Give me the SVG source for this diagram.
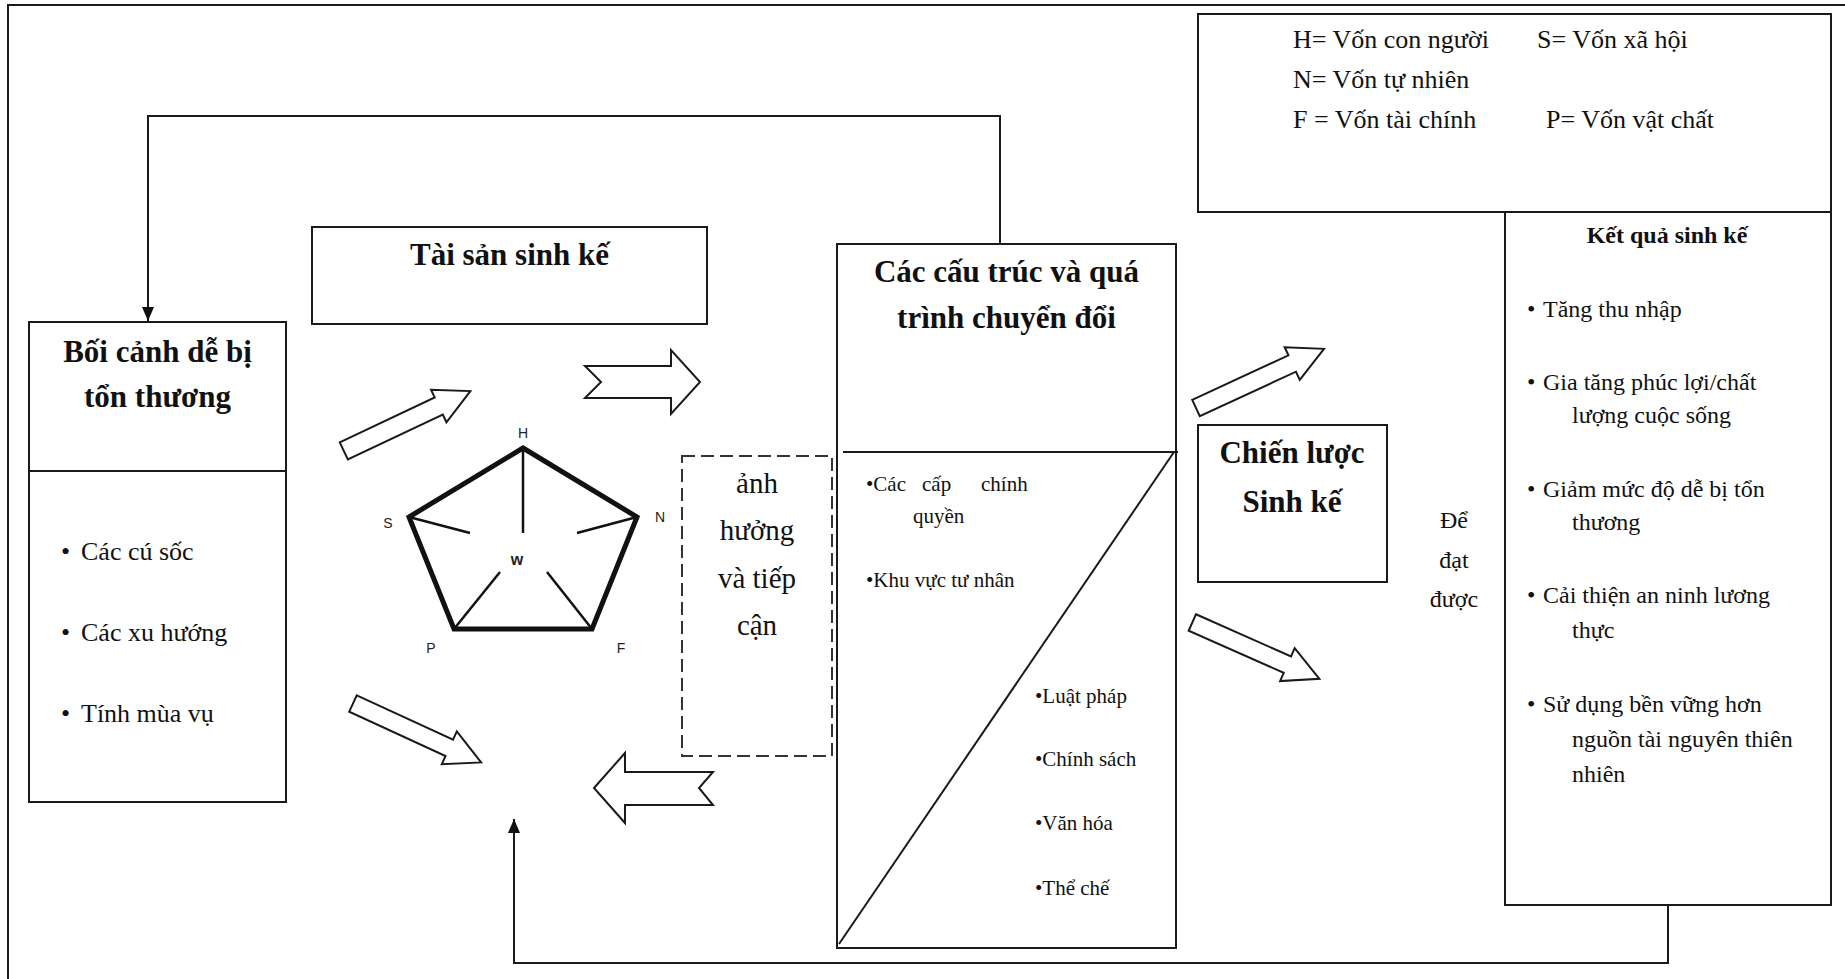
<svg xmlns="http://www.w3.org/2000/svg" width="1845" height="979" viewBox="0 0 1845 979">
<style>
.box{fill:#fff;stroke:#1a1a1a;stroke-width:2}
.dash{fill:none;stroke:#333;stroke-width:2;stroke-dasharray:13,6}
.ln{fill:none;stroke:#1a1a1a;stroke-width:2}
.conn{fill:none;stroke:#1a1a1a;stroke-width:2}
.barrow{fill:#fff;stroke:#1a1a1a;stroke-width:2;stroke-linejoin:miter}
.t{font-family:"Liberation Serif","Times New Roman","DejaVu Serif",serif;fill:#111}
.title{font-size:31px;font-weight:bold;text-anchor:middle}
.body{font-size:24px}
.leg{font-size:26px}
.small{font-size:21px}
.mid{text-anchor:middle}
.pl{font-family:"Liberation Sans",Arial,sans-serif;font-size:14px;fill:#222;text-anchor:middle}
</style>
<defs>
<marker id="ah" markerWidth="14" markerHeight="14" refX="14" refY="7" orient="auto" markerUnits="userSpaceOnUse">
<path d="M0,1 L14,7 L0,13 Z" fill="#111"/>
</marker>
</defs>
<rect x="0" y="0" width="1845" height="979" fill="#fff"/>
<path class="ln" d="M8,979 V5 H1845"/>

<g id="connectors">
<path class="conn" d="M1000,244 V116 H148 V321" marker-end="url(#ah)"/>
<path class="conn" d="M1668,905 V963 H514 V819" marker-end="url(#ah)"/>
<path class="barrow" transform="translate(343.8,450.9) rotate(-25.3)" d="M0,-9.5 H105 V-18 L140,0 L105,18 V9.5 H0 Z"/>
<path class="barrow" transform="translate(353,703.5) rotate(24.7)" d="M0,-9 H106 V-18 L141,0 L106,18 V9 H0 Z"/>
<path class="barrow" d="M585,366 L671,366 L671,350 L700,382 L671,414 L671,398 L585,398 L601,382 Z"/>
<path class="barrow" d="M594,788 L625,753 L625,772 L713,772 L699,788 L713,805 L625,805 L625,823 Z"/>
<path class="barrow" transform="translate(1196,408) rotate(-24.8)" d="M0,-9 H106 V-18 L141,0 L106,18 V9 H0 Z"/>
<path class="barrow" transform="translate(1192.3,622.5) rotate(23.9)" d="M0,-9 H104 V-18 L139,0 L104,18 V9 H0 Z"/>
</g>

<g id="boi-canh">
<rect class="box" x="29" y="322" width="257" height="480"/>
<line class="ln" x1="29" y1="471" x2="286" y2="471"/>
<text class="t title" x="157.5" y="362">Bối cảnh dễ bị</text>
<text class="t title" x="157.5" y="407">tổn thương</text>
<text class="t body" style="font-size:26px" x="61" y="560">•</text><text class="t body" style="font-size:26px" x="81" y="560">Các cú sốc</text>
<text class="t body" style="font-size:26px" x="61" y="641">•</text><text class="t body" style="font-size:26px" x="81" y="641">Các xu hướng</text>
<text class="t body" style="font-size:26px" x="61" y="722">•</text><text class="t body" style="font-size:26px" x="81" y="722">Tính mùa vụ</text>
</g>

<g id="tai-san">
<rect class="box" x="312" y="227" width="395" height="97"/>
<text class="t title" x="509.5" y="265">Tài sản sinh kế</text>
</g>

<g id="pentagon">
<polygon points="523,448 637,517 592,629 454,629 409,517" fill="#fff" stroke="#111" stroke-width="5" stroke-linejoin="miter"/>
<g stroke="#111" stroke-width="2.5">
<line x1="523" y1="448" x2="523" y2="533"/>
<line x1="409" y1="517" x2="470" y2="533"/>
<line x1="637" y1="517" x2="577" y2="533"/>
<line x1="454" y1="629" x2="500" y2="572"/>
<line x1="592" y1="629" x2="547" y2="572"/>
</g>
<text class="pl" x="523" y="438">H</text>
<text class="pl" x="388" y="528">S</text>
<text class="pl" x="660" y="522">N</text>
<text class="pl" x="431" y="653">P</text>
<text class="pl" x="621" y="653">F</text>
<text class="pl" x="517" y="565" style="font-weight:bold;font-size:16px">w</text>
</g>

<g id="anh-huong">
<rect class="dash" x="682" y="456" width="150" height="300"/>
<text class="t mid" style="font-size:29px" x="757" y="493">ảnh</text>
<text class="t mid" style="font-size:29px" x="757" y="540">hưởng</text>
<text class="t mid" style="font-size:29px" x="757" y="588">và tiếp</text>
<text class="t mid" style="font-size:29px" x="757" y="635">cận</text>
</g>

<g id="cau-truc">
<rect class="box" x="837" y="244" width="339" height="704"/>
<line class="ln" x1="843" y1="452" x2="1178" y2="452"/>
<line class="ln" x1="1174" y1="452" x2="839" y2="944"/>
<text class="t title" x="1006.5" y="282">Các cấu trúc và quá</text>
<text class="t title" x="1006.5" y="328">trình chuyển đổi</text>
<text class="t small" x="866" y="491">•Các</text>
<text class="t small" x="922" y="491">cấp</text>
<text class="t small" x="981" y="491">chính</text>
<text class="t small" x="913" y="523">quyền</text>
<text class="t small" x="866" y="587">•Khu vực tư nhân</text>
<text class="t small" x="1035" y="703">•Luật pháp</text>
<text class="t small" x="1035" y="766">•Chính sách</text>
<text class="t small" x="1035" y="830">•Văn hóa</text>
<text class="t small" x="1035" y="895">•Thể chế</text>
</g>

<g id="chien-luoc">
<rect class="box" x="1198" y="425" width="189" height="157"/>
<text class="t title" x="1292" y="463">Chiến lược</text>
<text class="t title" x="1292" y="512">Sinh kế</text>
</g>

<g id="de-dat-duoc">
<text class="t body mid" x="1454" y="528">Để</text>
<text class="t body mid" x="1454" y="568">đạt</text>
<text class="t body mid" x="1454" y="607">được</text>
</g>

<g id="legend">
<rect class="box" x="1198" y="14" width="633" height="198"/>
<text class="t leg" x="1293" y="48">H= Vốn con người</text>
<text class="t leg" x="1537" y="48">S= Vốn xã hội</text>
<text class="t leg" x="1293" y="88">N= Vốn tự nhiên</text>
<text class="t leg" x="1293" y="128">F = Vốn tài chính</text>
<text class="t leg" x="1546" y="128">P= Vốn vật chất</text>
</g>

<g id="ket-qua">
<rect class="box" x="1505" y="212" width="326" height="693"/>
<text class="t mid" style="font-size:24px;font-weight:bold" x="1667" y="243">Kết quả sinh kế</text>
<text class="t body" x="1527" y="317">•</text><text class="t body" x="1543" y="317">Tăng thu nhập</text>
<text class="t body" x="1527" y="390">•</text><text class="t body" x="1543" y="390">Gia tăng phúc lợi/chất</text>
<text class="t body" x="1572" y="423">lượng cuộc sống</text>
<text class="t body" x="1527" y="497">•</text><text class="t body" x="1543" y="497">Giảm mức độ dễ bị tổn</text>
<text class="t body" x="1572" y="530">thương</text>
<text class="t body" x="1527" y="603">•</text><text class="t body" x="1543" y="603">Cải thiện an ninh lương</text>
<text class="t body" x="1572" y="638">thực</text>
<text class="t body" x="1527" y="712">•</text><text class="t body" x="1543" y="712">Sử dụng bền vững hơn</text>
<text class="t body" x="1572" y="747">nguồn tài nguyên thiên</text>
<text class="t body" x="1572" y="782">nhiên</text>
</g>
</svg>
